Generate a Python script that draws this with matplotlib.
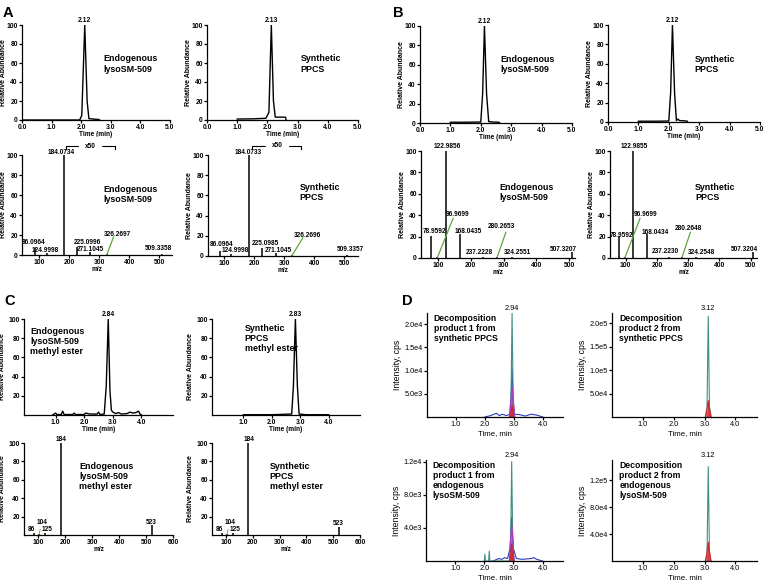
import matplotlib
matplotlib.use("Agg")
import matplotlib.pyplot as plt

plt.rcParams["font.family"] = ["Liberation Sans", "DejaVu Sans"]

W, H = 766, 580

# ---------------- data ----------------
# panel A chromatograms (time min, relative abundance)
a_endo_t = [0.0, 1.95, 2.02, 2.12, 2.20, 2.26, 2.40, 2.60, 2.62]
a_endo_y = [0.0, 0.0, 5.0, 100.0, 20.0, 1.5, 1.0, 0.5, 0.0]
a_syn_t = [1.0, 1.5, 1.95, 2.05, 2.13, 2.20, 2.26, 2.45, 2.60, 2.62]
a_syn_y = [1.0, 1.2, 1.8, 8.0, 100.0, 20.0, 3.0, 3.0, 3.0, 0.0]

# panel A MS/MS spectra (m/z, relative abundance)
a_endo_mz = [86.0964, 124.9998, 184.0734, 225.0996, 271.1045, 326.2697, 509.3358]
a_endo_int = [7.0, 2.0, 100.0, 8.0, 3.0, 0.8, 1.0]
a_syn_mz = [86.0964, 124.9998, 184.0733, 225.0985, 271.1045, 326.2696, 509.3357]
a_syn_int = [5.0, 2.0, 100.0, 8.0, 3.0, 0.8, 1.0]

# panel B chromatograms
b_endo_t = [1.0, 1.5, 2.0, 2.06, 2.12, 2.19, 2.26, 2.40, 2.60, 2.62]
b_endo_y = [0.8, 0.8, 1.0, 30.0, 100.0, 30.0, 1.5, 1.0, 0.8, 0.0]
b_syn_t = [1.0, 1.5, 2.0, 2.06, 2.12, 2.19, 2.25, 2.30, 2.35, 2.60, 2.62]
b_syn_y = [0.8, 0.8, 1.0, 30.0, 100.0, 30.0, 1.5, 3.0, 1.5, 1.0, 0.0]

# panel B MS/MS spectra
b_endo_mz = [78.9592, 96.9699, 122.9856, 168.0435, 237.2228, 280.2653, 324.2551, 507.3207]
b_endo_int = [20.5, 0.5, 100.0, 22.0, 1.0, 0.5, 0.5, 5.5]
b_syn_mz = [78.9592, 96.9699, 122.9855, 168.0434, 237.2230, 280.2648, 324.2548, 507.3204]
b_syn_int = [20.5, 0.5, 100.0, 22.0, 1.0, 0.5, 0.5, 5.5]

# panel C chromatograms (methyl esters)
c_endo_t = [0.9, 1.0, 1.05, 1.2, 1.25, 1.3, 1.6, 1.65, 1.7, 2.0, 2.05, 2.2, 2.45, 2.5, 2.55,
            2.70, 2.77, 2.84, 2.90, 2.95, 3.0, 3.1, 3.2, 3.3, 3.5, 3.6, 3.7, 3.8, 3.9, 3.95, 4.0]
c_endo_y = [0.0, 2.0, 0.5, 0.5, 4.0, 0.5, 0.5, 2.0, 0.5, 0.5, 2.0, 1.0, 1.0, 3.0, 0.5,
            1.0, 30.0, 100.0, 25.0, 5.0, 3.0, 1.5, 2.5, 1.0, 1.5, 3.0, 2.0, 2.5, 4.0, 1.0, 0.0]
c_syn_t = [1.0, 2.0, 2.70, 2.76, 2.83, 2.90, 2.96, 3.2, 4.0]
c_syn_y = [0.3, 0.3, 1.0, 30.0, 100.0, 30.0, 1.0, 0.3, 0.3]

# panel C MS/MS spectra (nominal m/z)
c_endo_mz = [86, 104, 125, 184, 523]
c_endo_int = [2.5, 1.0, 2.5, 100.0, 11.0]
c_syn_mz = [86, 104, 125, 184, 523]
c_syn_int = [2.5, 1.0, 2.5, 100.0, 9.0]

# panel D XIC traces (time min, intensity cps)
d1_green_t = [2.84, 2.90, 2.94, 2.98, 3.04]
d1_green_y = [0.0, 2000.0, 22500.0, 2000.0, 0.0]
d1_blue_t = [2.0, 2.2, 2.4, 2.5, 2.6, 2.75, 2.86, 2.91, 2.94, 2.97, 3.02, 3.2, 3.4, 3.6, 3.8, 4.0]
d1_blue_y = [0.0, 300.0, 800.0, 300.0, 600.0, 300.0, 600.0, 5000.0, 10500.0, 5000.0, 600.0, 500.0, 200.0, 600.0, 400.0, 0.0]
d1_mag_t = [2.86, 2.94, 3.02]
d1_mag_y = [0.0, 6500.0, 0.0]
d1_red_t = [2.88, 2.94, 3.00]
d1_red_y = [0.0, 2500.0, 0.0]

d2_green_t = [3.02, 3.08, 3.12, 3.16, 3.22]
d2_green_y = [0.0, 20000.0, 215000.0, 20000.0, 0.0]
d2_red_t = [3.04, 3.12, 3.20]
d2_red_y = [0.0, 35000.0, 0.0]

d3_green_t = [2.0, 2.02, 2.04, 2.15, 2.17, 2.19, 2.86, 2.90, 2.94, 2.98, 3.04]
d3_green_y = [0.0, 800.0, 0.0, 0.0, 1200.0, 0.0, 0.0, 1000.0, 12000.0, 1000.0, 0.0]
d3_blue_t = [2.3, 2.5, 2.6, 2.7, 2.8, 2.88, 2.94, 3.00, 3.1, 3.3, 3.6, 3.7, 3.8, 4.0]
d3_blue_y = [0.0, 300.0, 200.0, 400.0, 300.0, 1500.0, 5300.0, 1500.0, 300.0, 200.0, 300.0, 400.0, 200.0, 0.0]
d3_mag_t = [2.86, 2.94, 3.02]
d3_mag_y = [0.0, 4500.0, 0.0]
d3_red_t = [2.88, 2.94, 3.00]
d3_red_y = [0.0, 2000.0, 0.0]

d4_green_t = [3.02, 3.08, 3.12, 3.16, 3.22]
d4_green_y = [0.0, 10000.0, 140000.0, 10000.0, 0.0]
d4_red_t = [3.04, 3.12, 3.20]
d4_red_y = [0.0, 28000.0, 0.0]

# ---------------- helpers ----------------
fig = plt.figure(figsize=(W / 100, H / 100), dpi=100)


def axes_px(l, t, r, b):
    ax = fig.add_axes([l / W, 1 - b / H, (r - l) / W, (b - t) / H])
    ax._px_width = r - l
    return ax


def style(ax, size=4.9, weight="bold", lw=0.9):
    for s in ("top", "right"):
        ax.spines[s].set_visible(False)
    for s in ("left", "bottom"):
        ax.spines[s].set_linewidth(lw)
    ax.tick_params(direction="out", length=2, width=lw, pad=1, labelsize=size)
    for lab in ax.get_xticklabels() + ax.get_yticklabels():
        lab.set_fontweight(weight)


def rel_ylabel(ax, off=15):
    ax.set_ylabel("Relative Abundance", fontsize=5, fontweight="bold")
    ax.yaxis.set_label_coords(-off / ax._px_width, 0.5)


def chrom(ax, t, y, peak, ptime, xlab="Time (min)"):
    ax.plot(t, y, color="k", lw=1.0)
    ax.set_xlim(0, 5)
    ax.set_ylim(0, 100)
    ax.set_xticks([0, 1, 2, 3, 4, 5])
    ax.set_xticklabels([f"{v:.1f}" for v in range(6)])
    ax.set_yticks([0, 20, 40, 60, 80, 100])
    ax.text(ptime, 101, peak, ha="center", va="bottom", fontsize=4.9, fontweight="bold")
    ax.set_xlabel(xlab, fontsize=4.7, fontweight="bold", labelpad=0)
    rel_ylabel(ax)
    style(ax)


def spectrum(ax, mz, inten, labels, xlim, xticks):
    ax.vlines(mz, 0, inten, color="k", lw=1.1)
    ax.set_xlim(*xlim)
    ax.set_ylim(0, 100)
    ax.set_xticks(xticks)
    for txt, x, y in labels:
        ax.text(x, y, txt, ha="center", va="center", fontsize=4.7,
                fontweight="bold", clip_on=False)
    ax.set_xlabel("m/z", fontsize=4.7, fontweight="bold", labelpad=0)
    rel_ylabel(ax)
    style(ax)


def note(ax, x, y, s, size=6.4):
    ax.text(x, y, s, transform=ax.transAxes, ha="left", va="top", fontsize=size,
            fontweight="bold", linespacing=1.15)


GREEN = "#5aa83c"

# ---------------- panel A ----------------
ax = axes_px(22, 25, 170, 120)
chrom(ax, a_endo_t, a_endo_y, "2.12", 2.12)
note(ax, 0.55, 0.69, "Endogenous\nlysoSM-509")

ax = axes_px(207, 25, 358, 120)
chrom(ax, a_syn_t, a_syn_y, "2.13", 2.13)
note(ax, 0.62, 0.69, "Synthetic\nPPCS")

ax = axes_px(22, 155, 172, 255)
spectrum(ax, a_endo_mz, a_endo_int,
         [("86.0964", 82, 13), ("124.9998", 122, 5), ("184.0734", 172, 102),
          ("225.0996", 262, 13), ("271.1045", 272, 5.5), ("326.2697", 362, 21),
          ("509.3358", 497, 6)],
         (43, 543), [100, 200, 300, 400, 500])
ax.plot([326, 348], [0.5, 18], color=GREEN, lw=0.9)
ax.plot([188, 188, 352, 352], [106, 109, 109, 106], color="k", lw=0.8, clip_on=False)
ax.text(270, 109, "x50", ha="center", va="center", fontsize=4.7, fontweight="bold",
        backgroundcolor="white", clip_on=False)
note(ax, 0.54, 0.70, "Endogenous\nlysoSM-509")

ax = axes_px(208, 155, 358, 256)
spectrum(ax, a_syn_mz, a_syn_int,
         [("86.0964", 93, 11.5), ("124.9998", 137, 5), ("184.0733", 180, 102),
          ("225.0985", 237, 12.5), ("271.1045", 280, 5.5), ("326.2696", 377, 20),
          ("509.3357", 520, 6)],
         (47, 545), [100, 200, 300, 400, 500])
ax.plot([326, 362], [0.5, 18], color=GREEN, lw=0.9)
ax.plot([193, 193, 357, 357], [106, 109, 109, 106], color="k", lw=0.8, clip_on=False)
ax.text(277, 109, "x50", ha="center", va="center", fontsize=4.7, fontweight="bold",
        backgroundcolor="white", clip_on=False)
note(ax, 0.61, 0.72, "Synthetic\nPPCS")

# ---------------- panel B ----------------
ax = axes_px(420, 26, 572, 123)
chrom(ax, b_endo_t, b_endo_y, "2.12", 2.12)
note(ax, 0.53, 0.70, "Endogenous\nlysoSM-509")

ax = axes_px(608, 25, 760, 122)
chrom(ax, b_syn_t, b_syn_y, "2.12", 2.12)
note(ax, 0.57, 0.69, "Synthetic\nPPCS")

ax = axes_px(421, 151, 575, 258)
spectrum(ax, b_endo_mz, b_endo_int,
         [("122.9856", 127, 104), ("78.9592", 88, 25), ("96.9699", 161, 41),
          ("168.0435", 191, 25), ("237.2228", 225, 5), ("280.2653", 293, 29),
          ("324.2551", 341, 5), ("507.3207", 481, 8)],
         (48, 518), [100, 200, 300, 400, 500])
ax.plot([98, 146], [0.5, 37], color=GREEN, lw=0.9)
ax.plot([280, 307], [0.5, 24], color=GREEN, lw=0.9)
note(ax, 0.51, 0.70, "Endogenous\nlysoSM-509")

ax = axes_px(610, 151, 757, 258)
spectrum(ax, b_syn_mz, b_syn_int,
         [("122.9855", 127, 104), ("78.9592", 88, 21), ("96.9699", 163, 41),
          ("168.0434", 195, 24), ("237.2230", 228, 6), ("280.2648", 300, 28),
          ("324.2548", 341, 5), ("507.3204", 481, 8)],
         (50, 520), [100, 200, 300, 400, 500])
ax.plot([98, 146], [0.5, 37], color=GREEN, lw=0.9)
ax.plot([280, 307], [0.5, 24], color=GREEN, lw=0.9)
note(ax, 0.58, 0.70, "Synthetic\nPPCS")


# ---------------- panel C ----------------
def chrom_c(ax, t, y, peak, ptime):
    ax.plot(t, y, color="k", lw=1.0)
    ax.set_xlim(-0.1, 5.1)
    ax.set_ylim(0, 100)
    ax.set_xticks([1, 2, 3, 4])
    ax.set_xticklabels(["1.0", "2.0", "3.0", "4.0"])
    ax.set_yticks([20, 40, 60, 80, 100])
    ax.text(ptime, 101, peak, ha="center", va="bottom", fontsize=4.9, fontweight="bold")
    ax.set_xlabel("Time (min)", fontsize=4.7, fontweight="bold", labelpad=0)
    rel_ylabel(ax, 18)
    style(ax)


ax = axes_px(24, 319, 173, 415)
chrom_c(ax, c_endo_t, c_endo_y, "2.84", 2.84)
note(ax, 0.04, 0.92, "Endogenous\nlysoSM-509\nmethyl ester")

ax = axes_px(212, 319, 360, 415)
chrom_c(ax, c_syn_t, c_syn_y, "2.83", 2.83)
note(ax, 0.22, 0.95, "Synthetic\nPPCS\nmethyl ester")


def spectrum_c(ax, mz, inten, labels):
    ax.vlines(mz, 0, inten, color="k", lw=1.1)
    ax.set_xlim(48, 600)
    ax.set_ylim(0, 100)
    ax.set_xticks([100, 200, 300, 400, 500, 600])
    ax.set_yticks([20, 40, 60, 80, 100])
    for txt, x, y in labels:
        ax.text(x, y, txt, ha="center", va="center", fontsize=4.7, fontweight="bold",
                clip_on=False)
    ax.plot([104, 108], [0.5, 6], color=GREEN, lw=0.6)
    ax.set_xlabel("m/z", fontsize=4.7, fontweight="bold", labelpad=0)
    rel_ylabel(ax, 18)
    style(ax)


ax = axes_px(24, 443, 173, 535)
spectrum_c(ax, c_endo_mz, c_endo_int,
           [("184", 185, 104), ("104", 115, 13.5), ("86", 76, 5.5), ("125", 135, 5.5),
            ("523", 520, 14)])
note(ax, 0.37, 0.79, "Endogenous\nlysoSM-509\nmethyl ester")

ax = axes_px(212, 443, 360, 535)
spectrum_c(ax, c_syn_mz, c_syn_int,
           [("184", 185, 104), ("104", 115, 13.5), ("86", 76, 5.5), ("125", 135, 5.5),
            ("523", 520, 12)])
note(ax, 0.39, 0.79, "Synthetic\nPPCS\nmethyl ester")

# ---------------- panel D ----------------
TEAL, BLUE, MAG, RED = "#3f8f84", "#2a3cc0", "#b536c4", "#d2232a"


def xic(ax, traces, ymax, yticks, ylabels, peak, ptime, text):
    for t, y, c, fill in traces:
        if fill:
            ax.fill_between(t, 0, y, color=c, alpha=0.85, lw=0)
        ax.plot(t, y, color=c, lw=0.8)
    ax.set_xlim(0, 4.7)
    ax.set_ylim(0, ymax)
    ax.set_xticks([1, 2, 3, 4])
    ax.set_xticklabels(["1.0", "2.0", "3.0", "4.0"])
    ax.set_yticks(yticks)
    ax.set_yticklabels(ylabels)
    ax.text(ptime, ymax * 1.005, peak, ha="center", va="bottom", fontsize=5.3)
    ax.set_xlabel("Time, min", fontsize=5.6, labelpad=1)
    ax.set_ylabel("Intensity, cps", fontsize=6.2, labelpad=2)
    style(ax, size=5.3, weight="normal", lw=0.9)
    ax.text(0.05, 0.99, text, transform=ax.transAxes, ha="left", va="top",
            fontsize=6.2, fontweight="bold", linespacing=1.15)


ax = axes_px(427, 313, 563, 417)
xic(ax, [(d1_blue_t, d1_blue_y, BLUE, False), (d1_green_t, d1_green_y, TEAL, False),
         (d1_mag_t, d1_mag_y, MAG, True), (d1_red_t, d1_red_y, RED, True)],
    22400, [5000, 10000, 15000, 20000], ["5.0e3", "1.0e4", "1.5e4", "2.0e4"],
    "2.94", 2.94, "Decomposition\nproduct 1 from\nsynthetic PPCS")

ax = axes_px(612, 313, 757, 417)
xic(ax, [(d2_green_t, d2_green_y, TEAL, False), (d2_red_t, d2_red_y, RED, True)],
    222000, [50000, 100000, 150000, 200000], ["5.0e4", "1.0e5", "1.5e5", "2.0e5"],
    "3.12", 3.12, "Decomposition\nproduct 2 from\nsynthetic PPCS")

ax = axes_px(426, 460, 563, 561)
xic(ax, [(d3_blue_t, d3_blue_y, BLUE, False), (d3_green_t, d3_green_y, TEAL, False),
         (d3_mag_t, d3_mag_y, MAG, True), (d3_red_t, d3_red_y, RED, True)],
    12200, [4000, 8000, 12000], ["4.0e3", "8.0e3", "1.2e4"],
    "2.94", 2.94, "Decomposition\nproduct 1 from\nendogenous\nlysoSM-509")

ax = axes_px(612, 460, 757, 561)
xic(ax, [(d4_green_t, d4_green_y, TEAL, False), (d4_red_t, d4_red_y, RED, True)],
    150000, [40000, 80000, 120000], ["4.0e4", "8.0e4", "1.2e5"],
    "3.12", 3.12, "Decomposition\nproduct 2 from\nendogenous\nlysoSM-509")

# ---------------- panel letters ----------------
for letter, x, y in [("A", 3, 17), ("B", 393, 17), ("C", 4, 305), ("D", 402, 305)]:
    fig.text(x / W, 1 - y / H, letter, fontsize=10.5, fontweight="bold",
             ha="left", va="baseline")

fig.savefig("out.png", dpi=100)
